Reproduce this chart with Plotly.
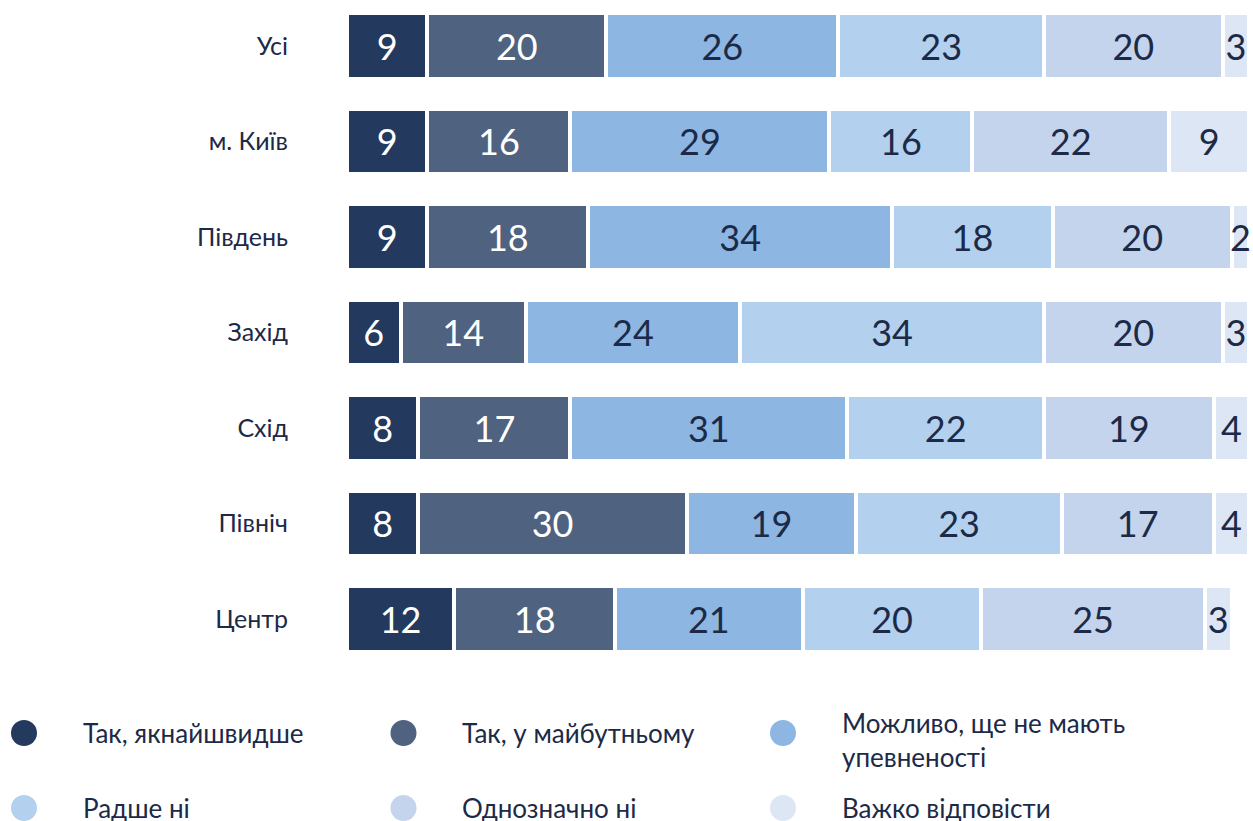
import plotly.graph_objects as go

categories = ["Усі", "м. Київ", "Південь", "Захід", "Схід", "Північ", "Центр"]
series_names = [
    "Так, якнайшвидше",
    "Так, у майбутньому",
    "Можливо, ще не мають<br>упевненості",
    "Радше ні",
    "Однозначно ні",
    "Важко відповісти",
]
s_asap = [9, 9, 9, 6, 8, 8, 12]
s_future = [20, 16, 18, 14, 17, 30, 18]
s_maybe = [26, 29, 34, 24, 31, 19, 21]
s_rather_no = [23, 16, 18, 34, 22, 23, 20]
s_no = [20, 22, 20, 20, 19, 17, 25]
s_hard = [3, 9, 2, 3, 4, 4, 3]
series_values = [s_asap, s_future, s_maybe, s_rather_no, s_no, s_hard]

DARK = "#1c2a48"
colors = ["#233a5e", "#4f627f", "#8db6e2", "#b3d1ee", "#c3d4ec", "#dce6f4"]
text_colors = ["#ffffff", "#ffffff", DARK, DARK, DARK, DARK]
legend_col = [0, 1, 2, 0, 1, 2]
legend_row = [0, 0, 0, 1, 1, 1]

FONT = "Lato, 'Open Sans', 'Noto Sans', sans-serif"

fig = go.Figure()
for name, vals, col, tcol in zip(series_names, series_values, colors, text_colors):
    fig.add_trace(go.Bar(
        y=categories, x=vals, orientation="h", name=name,
        marker=dict(color=col, line=dict(color="#ffffff", width=4)),
        width=0.69,
        text=[str(v) for v in vals], textposition="inside",
        insidetextanchor="middle", textangle=0, constraintext="none",
        textfont=dict(family=FONT, size=36, color=tcol),
        showlegend=False, hoverinfo="skip",
    ))

# legend drawn on a full-page helper subplot
fig.add_trace(go.Scatter(
    x=legend_col, y=legend_row, mode="markers",
    marker=dict(size=26, color=colors, line=dict(width=0)),
    xaxis="x2", yaxis="y2", showlegend=False, hoverinfo="skip",
))
for name, c, r in zip(series_names, legend_col, legend_row):
    fig.add_annotation(
        x=c, y=r, xref="x2", yref="y2", text=name, showarrow=False,
        xanchor="left", yanchor="middle", xshift=57, align="left",
        yshift=(-7 if "<br>" in name else 0),
        font=dict(family=FONT, size=26, color=DARK),
    )

W, H = 1253, 821
fig.update_layout(
    width=W, height=H, barmode="stack",
    margin=dict(l=0, r=0, t=0, b=0),
    paper_bgcolor="white", plot_bgcolor="rgba(0,0,0,0)",
    font=dict(family=FONT, color=DARK),
    xaxis=dict(domain=[347 / W, 1], range=[0, 101.4], showgrid=False,
               zeroline=False, showticklabels=False, fixedrange=True),
    yaxis=dict(domain=[154 / H, 1], categoryorder="array", categoryarray=categories,
               range=[6.503, -0.4817], showgrid=False, zeroline=False,
               ticks="", ticklabelstandoff=58, fixedrange=True,
               tickfont=dict(family=FONT, size=25, color=DARK)),
    xaxis2=dict(domain=[0, 1], anchor="y2", range=[-0.0632, 3.2385],
                visible=False, fixedrange=True),
    yaxis2=dict(domain=[0, 1], anchor="x2", range=[1.1733, -9.773],
                visible=False, fixedrange=True),
)

fig.write_html("out.html", config={"displayModeBar": False},
               post_script="document.body.style.margin='0px';")
